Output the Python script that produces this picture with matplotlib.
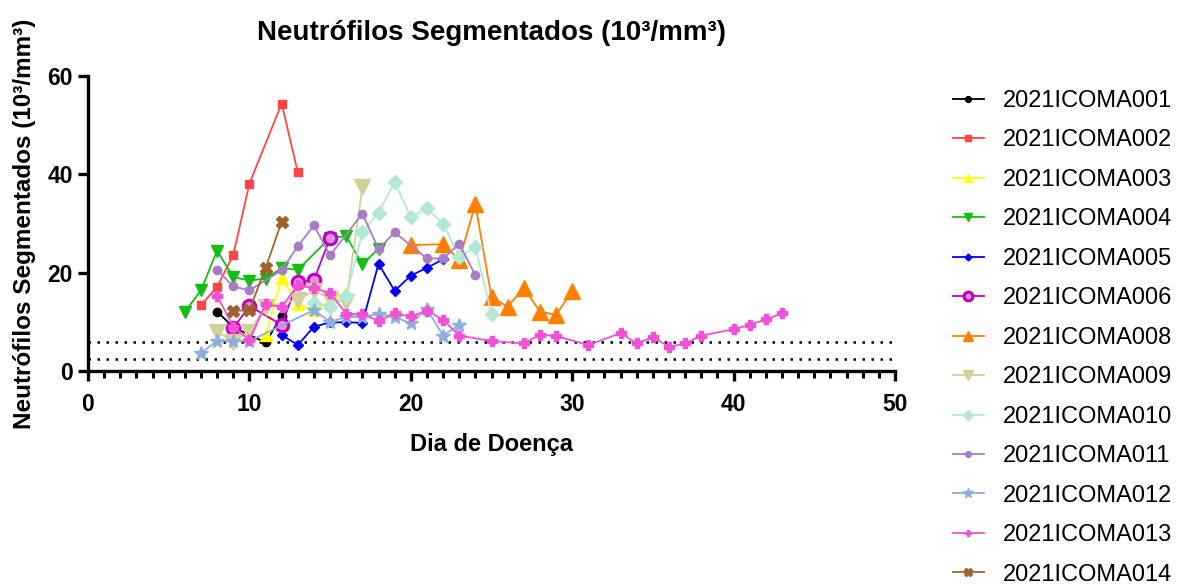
import matplotlib
matplotlib.use('Agg')
import matplotlib.pyplot as plt
from matplotlib.ticker import MultipleLocator

plt.rcParams['font.family'] = ['Liberation Sans', 'DejaVu Sans']

# dias de doença e contagens de neutrófilos por paciente
x_001 = [8, 9, 11, 12]
y_001 = [12.1, 8.9, 5.8, 11.1]

x_002 = [7, 8, 9, 10, 12, 13]
y_002 = [13.4, 17.1, 23.6, 38.1, 54.4, 40.4]

x_003 = [11, 12, 13, 14, 16]
y_003 = [7.3, 18.9, 13.6, 12.4, 15.9]

x_004 = [6, 7, 8, 9, 10, 11, 12, 13, 15, 16, 17, 18]
y_004 = [12.0, 16.4, 24.5, 19.1, 18.4, 18.8, 20.9, 20.6, 27.1, 27.4, 21.7, 24.9]

x_005 = [12, 13, 14, 15, 16, 17, 18, 19, 20, 21, 22]
y_005 = [7.3, 5.3, 9.0, 9.9, 9.9, 9.8, 21.8, 16.3, 19.4, 21.0, 22.7]

x_006 = [9, 10, 12, 13, 14, 15]
y_006 = [8.7, 13.2, 9.4, 18.2, 18.5, 27.1]

x_008 = [20, 22, 23, 24, 25, 26, 27, 28, 29, 30]
y_008 = [25.6, 25.8, 22.6, 33.9, 15.0, 13.1, 16.9, 12.1, 11.4, 16.3]

x_009 = [8, 9, 10, 11, 13, 14, 15, 16, 17]
y_009 = [8.0, 6.0, 8.0, 13.0, 14.5, 16.3, 14.7, 14.1, 37.4]

x_010 = [14, 15, 16, 17, 18, 19, 20, 21, 22, 23, 24, 25]
y_010 = [13.8, 13.0, 15.2, 28.2, 32.2, 38.4, 31.3, 33.1, 30.0, 23.2, 25.2, 11.6]

x_011 = [8, 9, 10, 12, 13, 14, 15, 17, 18, 19, 21, 22, 23, 24]
y_011 = [20.6, 17.2, 16.4, 20.5, 25.4, 29.6, 23.5, 32.0, 24.8, 28.2, 22.9, 22.9, 25.9, 19.5]

x_012 = [7, 8, 9, 10, 14, 15, 16, 17, 18, 19, 20, 21, 22, 23]
y_012 = [3.7, 6.1, 6.1, 6.1, 12.4, 10.0, 11.0, 11.0, 11.6, 11.0, 9.7, 12.6, 7.2, 9.4]

x_013 = [8, 9, 10, 11, 12, 13, 14, 15, 16, 17, 18, 19, 20, 21, 22, 23, 25, 27, 28,
         29, 31, 33, 34, 35, 36, 37, 38, 40, 41, 42, 43]
y_013 = [15.3, 9.0, 6.3, 13.6, 13.0, 17.5, 16.8, 15.9, 11.6, 11.6, 10.2, 11.7, 11.1,
         12.3, 10.4, 7.2, 6.1, 5.6, 7.4, 7.1, 5.3, 7.7, 5.6, 6.9, 4.9, 5.6, 7.2, 8.5,
         9.4, 10.5, 11.7]

x_014 = [9, 10, 11, 12]
y_014 = [12.2, 12.4, 20.9, 30.4]

# faixa de referência
ref_lines = [6.0, 2.5]

series = [
    ('2021ICOMA001', x_001, y_001, '#000000', 'o', 6, {}),
    ('2021ICOMA002', x_002, y_002, '#ff4545', 's', 6, {}),
    ('2021ICOMA003', x_003, y_003, '#ffff00', '^', 8, {}),
    ('2021ICOMA004', x_004, y_004, '#10c010', 'v', 8, {}),
    ('2021ICOMA005', x_005, y_005, '#0000ff', 'D', 5, {}),
    ('2021ICOMA006', x_006, y_006, '#c000c0', 'o', 9, {'mfc': '#e090e0', 'mew': 2.2}),
    ('2021ICOMA008', x_008, y_008, '#ff8000', '^', 11, {}),
    ('2021ICOMA009', x_009, y_009, '#d3d09a', 'v', 11, {}),
    ('2021ICOMA010', x_010, y_010, '#b4e8d6', 'D', 7.5, {}),
    ('2021ICOMA011', x_011, y_011, '#a97cc6', 'o', 6, {}),
    ('2021ICOMA012', x_012, y_012, '#8eaedc', '*', 10, {}),
    ('2021ICOMA013', x_013, y_013, '#f250d6', 'P', 6.5, {}),
    ('2021ICOMA014', x_014, y_014, '#9c6428', 'X', 8, {}),
]

fig = plt.figure(figsize=(11.79, 5.85), dpi=100)
ax = fig.add_axes([88 / 1179, 1 - 371 / 585, (895 - 88) / 1179, (371 - 76) / 585])

for yr in ref_lines:
    ax.plot([0, 50], [yr, yr], color='black', lw=1.8, linestyle=(0, (1, 2.6)),
            zorder=1, clip_on=False)

for name, xs, ys, col, mk, ms, extra in series:
    ax.plot(xs, ys, color=col, marker=mk, markersize=ms, lw=1.3,
            markeredgecolor=extra.get('mec', col),
            markerfacecolor=extra.get('mfc', col),
            markeredgewidth=extra.get('mew', 1.0),
            label=name, zorder=3)

ax.set_xlim(0, 50)
ax.set_ylim(0, 60)
ax.xaxis.set_major_locator(MultipleLocator(10))
ax.xaxis.set_minor_locator(MultipleLocator(1))
ax.yaxis.set_major_locator(MultipleLocator(20))

for s in ['top', 'right']:
    ax.spines[s].set_visible(False)
for s in ['left', 'bottom']:
    ax.spines[s].set_linewidth(2.4)
    ax.spines[s].set_capstyle('projecting')

ax.tick_params(axis='both', which='major', direction='out', length=7, width=2.4,
               labelsize=16.5)
ax.tick_params(axis='x', which='major', pad=9)
ax.tick_params(axis='y', which='major', pad=4)
ax.tick_params(axis='x', which='minor', direction='out', length=5, width=2.2)
for lab in ax.get_xticklabels() + ax.get_yticklabels():
    lab.set_fontweight('bold')

ax.set_xlabel('Dia de Doença', fontsize=17, fontweight='bold', labelpad=12)
ax.set_ylabel('Neutrófilos Segmentados (10³/mm³)', fontsize=17.5, fontweight='bold',
              labelpad=8)
ax.set_title('Neutrófilos Segmentados (10³/mm³)', fontsize=20, fontweight='bold', pad=26)

fig.legend(loc='upper left', bbox_to_anchor=(953 / 1179, 1 - 90 / 585),
           bbox_transform=fig.transFigure, frameon=False, fontsize=17,
           handlelength=1.3, handletextpad=0.8, labelspacing=0.74,
           borderpad=0, borderaxespad=0, markerscale=0.7)

fig.savefig('out.png', dpi=100)
